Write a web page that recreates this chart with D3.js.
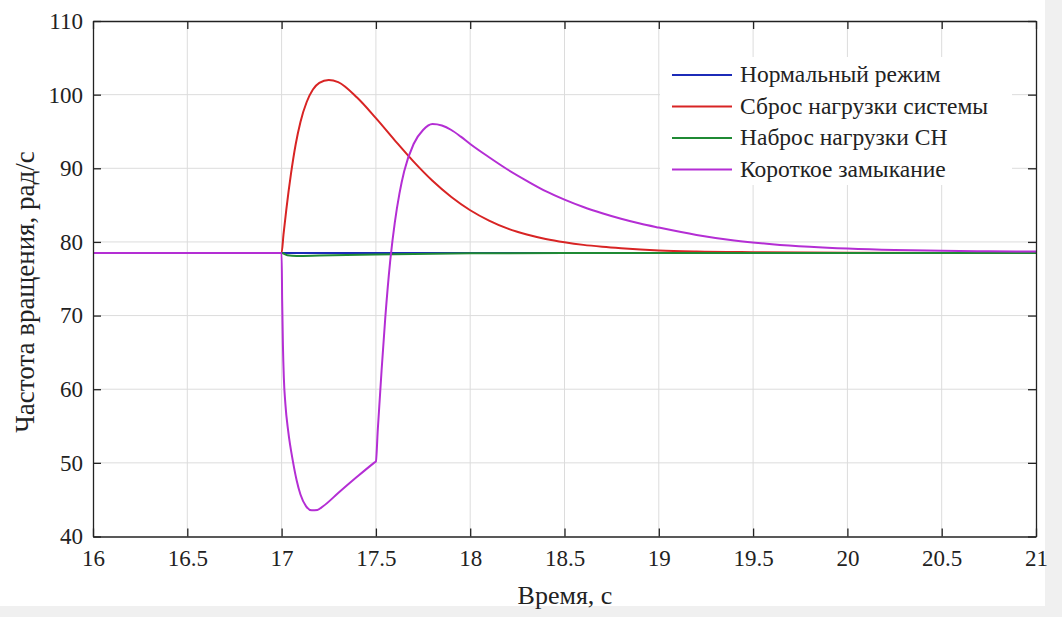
<!DOCTYPE html>
<html><head><meta charset="utf-8">
<script src="https://cdn.jsdelivr.net/npm/d3@7"></script>
<style>
html,body{margin:0;padding:0;background:#fff;}
svg{display:block;}
svg text{font-family:"Liberation Serif","Times New Roman",Tinos,"Noto Serif","DejaVu Serif","FreeSerif","Nimbus Roman",serif !important;fill:#222;}
</style></head>
<body>
<script>
// ---- data ----
const xTicks = [16, 16.5, 17, 17.5, 18, 18.5, 19, 19.5, 20, 20.5, 21];
const yTicks = [40, 50, 60, 70, 80, 90, 100, 110];
const seriesNames = ["Нормальный режим", "Сброс нагрузки системы", "Наброс нагрузки СН", "Короткое замыкание"];
const seriesColors = ["#1c2bb8", "#d82424", "#1f8a34", "#b42ed4"];

const normalT = [16, 17, 18, 19, 20, 21];
const normalV = [78.5, 78.5, 78.5, 78.5, 78.5, 78.5];

const dropT = [16, 17.0, 17.01, 17.025, 17.05, 17.075, 17.1, 17.133, 17.166, 17.2, 17.25, 17.3, 17.4, 17.5, 17.6, 17.7, 17.8, 17.9, 18.0, 18.1, 18.2, 18.3, 18.4, 18.5, 18.6, 18.7, 18.8, 19.0, 19.2, 19.5, 20, 21];
const dropV = [78.5, 78.5, 81.0, 84.4, 89.3, 93.3, 96.3, 99.0, 100.7, 101.6, 102.0, 101.7, 99.6, 96.8, 93.8, 90.9, 88.3, 86.1, 84.3, 82.9, 81.8, 81.0, 80.4, 79.95, 79.6, 79.35, 79.15, 78.85, 78.7, 78.6, 78.52, 78.5];

const surgeT = [16, 17.0, 17.03, 17.08, 17.2, 17.5, 18.0, 18.5, 19, 21];
const surgeV = [78.5, 78.5, 78.2, 78.1, 78.15, 78.3, 78.45, 78.5, 78.5, 78.5];

const faultT = [16, 17.0, 17.003, 17.007, 17.012, 17.02, 17.035, 17.06, 17.08, 17.1, 17.13, 17.16, 17.19, 17.22, 17.3, 17.4, 17.49, 17.5, 17.51, 17.53, 17.55, 17.575, 17.6, 17.625, 17.65, 17.7, 17.75, 17.8, 17.85, 17.9, 17.95, 18.0, 18.1, 18.2, 18.3, 18.4, 18.5, 18.6, 18.7, 18.8, 18.9, 19.0, 19.2, 19.4, 19.6, 19.8, 20.0, 20.25, 20.5, 20.75, 21];
const faultV = [78.5, 78.5, 72.0, 66.0, 61.5, 58.0, 54.3, 50.2, 47.6, 45.7, 44.1, 43.55, 43.6, 44.1, 45.9, 48.1, 50.0, 50.2, 54.5, 62.5, 69.8, 77.2, 82.6, 86.6, 89.6, 93.3, 95.2, 96.0, 95.8, 95.2, 94.3, 93.3, 91.5, 89.8, 88.3, 86.9, 85.75, 84.75, 83.9, 83.15, 82.5, 81.95, 80.95, 80.2, 79.7, 79.35, 79.1, 78.9, 78.8, 78.73, 78.7];

// ---- layout ----
const W = 1062, H = 617;
const L = 93, R = 1036, T = 21, B = 536.5;
const FONT = '"Liberation Serif","Times New Roman",Tinos,"Noto Serif","DejaVu Serif",serif';

const svg = d3.select("body").append("svg").attr("width", W).attr("height", H);
svg.append("rect").attr("width", W).attr("height", H).attr("fill", "#f0f0f0");
svg.append("rect").attr("width", 1045).attr("height", 606).attr("fill", "#fff");

const x = d3.scaleLinear().domain([16, 21]).range([L, R]);
const y = d3.scaleLinear().domain([40, 110]).range([B, T]);

// grid
const g = svg.append("g");
g.selectAll(".gx").data(xTicks.slice(1, -1)).enter().append("line")
  .attr("x1", d => x(d)).attr("x2", d => x(d)).attr("y1", T).attr("y2", B)
  .attr("stroke", "#dcdcdc").attr("stroke-width", 1);
g.selectAll(".gy").data(yTicks.slice(1, -1)).enter().append("line")
  .attr("x1", L).attr("x2", R).attr("y1", d => y(d)).attr("y2", d => y(d))
  .attr("stroke", "#dcdcdc").attr("stroke-width", 1);

// lines
const series = [
  {t: normalT, v: normalV},
  {t: dropT, v: dropV},
  {t: surgeT, v: surgeV},
  {t: faultT, v: faultV}
];
const line = d3.line().x(d => x(d[0])).y(d => y(d[1])).curve(d3.curveMonotoneX);
svg.append("clipPath").attr("id", "clip").append("rect")
  .attr("x", L).attr("y", T).attr("width", R - L).attr("height", B - T);
const lines = svg.append("g").attr("clip-path", "url(#clip)");
series.forEach((s, i) => {
  lines.append("path")
    .attr("d", line(s.t.map((t, j) => [t, s.v[j]])))
    .attr("fill", "none").attr("stroke", seriesColors[i])
    .attr("stroke-width", 2).attr("stroke-linejoin", "round");
});

// axes (ticks inward)
const axB = svg.append("g").attr("transform", `translate(0,${B})`)
  .call(d3.axisBottom(x).tickValues(xTicks).tickSizeInner(-8).tickSizeOuter(0).tickPadding(13).tickFormat(d => String(d)));
const axT = svg.append("g").attr("transform", `translate(0,${T})`)
  .call(d3.axisTop(x).tickValues(xTicks).tickSizeInner(-8).tickSizeOuter(0).tickFormat(""));
const axL = svg.append("g").attr("transform", `translate(${L},0)`)
  .call(d3.axisLeft(y).tickValues(yTicks).tickSizeInner(-8).tickSizeOuter(0).tickPadding(10).tickFormat(d => String(d)));
const axR = svg.append("g").attr("transform", `translate(${R},0)`)
  .call(d3.axisRight(y).tickValues(yTicks).tickSizeInner(-8).tickSizeOuter(0).tickFormat(""));
[axB, axT, axL, axR].forEach(a => {
  a.attr("font-family", FONT).attr("font-size", 23);
  a.selectAll("path").attr("stroke", "#222").attr("stroke-width", 1.3);
  a.selectAll("line").attr("stroke", "#222").attr("stroke-width", 1.3);
  a.selectAll("text").style("font-family", FONT).style("font-size", "23px").attr("fill", "#222");
});

// axis labels
svg.append("text").attr("x", 565).attr("y", 604).attr("text-anchor", "middle")
  .style("font-family", FONT).style("font-size", "26px").text("Время, с");
svg.append("text").attr("transform", `translate(34,292) rotate(-90)`).attr("text-anchor", "middle")
  .style("font-family", FONT).style("font-size", "27px").text("Частота вращения, рад/с");

// legend
const lg = svg.append("g");
lg.append("rect").attr("x", 660).attr("y", 57).attr("width", 352).attr("height", 128).attr("fill", "#fff");
seriesNames.forEach((n, i) => {
  const yy = 75 + i * 31.5;
  lg.append("line").attr("x1", 672).attr("x2", 732).attr("y1", yy).attr("y2", yy)
    .attr("stroke", seriesColors[i]).attr("stroke-width", 2);
  lg.append("text").attr("x", 740).attr("y", yy + 7)
    .style("font-family", FONT).style("font-size", "23.5px").text(n);
});
</script>
</body></html>
